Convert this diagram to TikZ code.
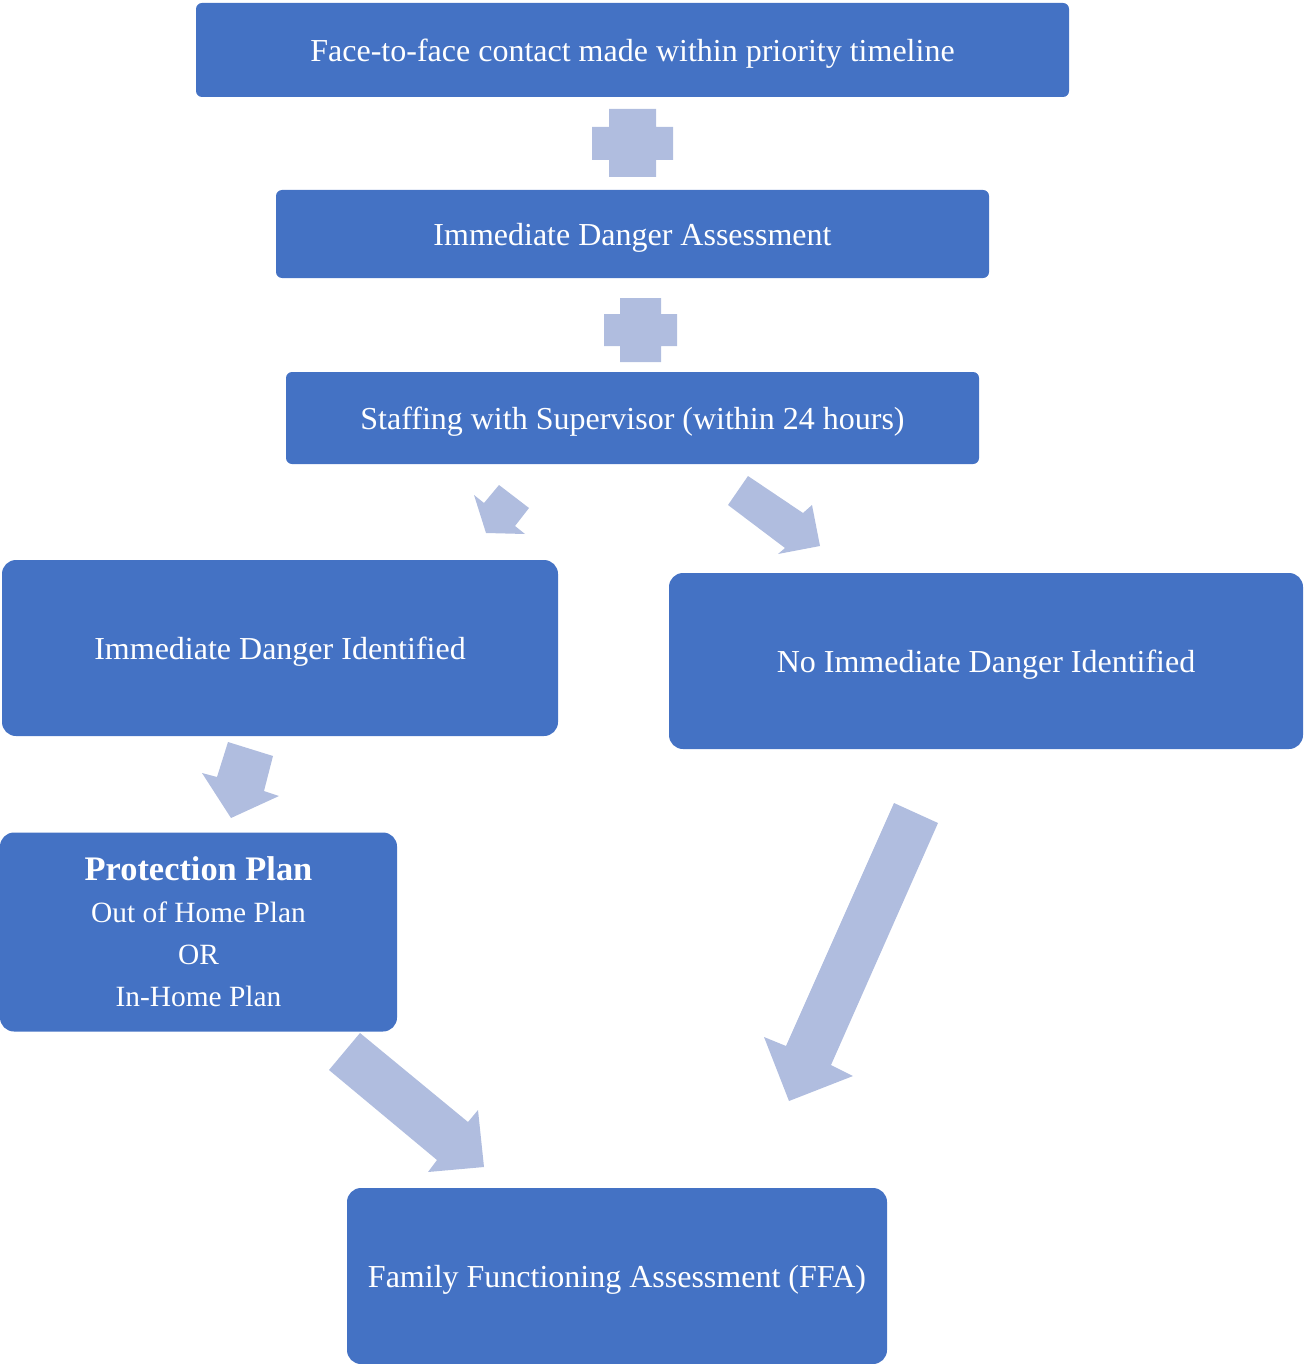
\documentclass[tikz,border=0pt]{standalone}
\usepackage{fontspec}
\setmainfont{Liberation Serif}
\definecolor{boxblue}{RGB}{68,114,196}
\definecolor{arrowblue}{RGB}{176,189,223}
\newcommand{\dn}[1]{\raisebox{-1.8pt}[\height][\depth]{#1}}
\begin{document}
\begin{tikzpicture}[x=0.5pt,y=-0.5pt,
  box/.style={fill=boxblue, draw=none, text=white, align=center, inner sep=0pt,
    font=\fontsize{16}{21}\selectfont},
  blk/.style={fill=arrowblue, draw=none}]
\useasboundingbox (0,0) rectangle (1303,1364);
% boxes
\node[box, rounded corners=3pt, minimum width=436.5pt, minimum height=47pt] (b1) at (632.5,50) {\dn{Face-to-face contact made within priority timeline}};
\node[box, rounded corners=3pt, minimum width=356.5pt, minimum height=44pt] (b2) at (632.5,234) {\dn{Immediate Danger Assessment}};
\node[box, rounded corners=3pt, minimum width=346.5pt, minimum height=46pt] (b3) at (632.5,418) {\dn{Staffing with Supervisor (within 24 hours)}};
\node[box, rounded corners=7pt, minimum width=278pt, minimum height=88pt] (b4) at (280,648) {\dn{Immediate Danger Identified}};
\node[box, rounded corners=7pt, minimum width=317pt, minimum height=88pt] (b5) at (986,661) {\dn{No Immediate Danger Identified}};
\node[box, rounded corners=7pt, minimum width=198.5pt, minimum height=99.5pt, font=\fontsize{14.7}{21}\selectfont] (b6) at (198.5,932) {{\fontsize{17.2}{21}\selectfont\bfseries Protection Plan}\\Out of Home Plan\\OR\\In-Home Plan};
\node[box, rounded corners=7pt, minimum width=270pt, minimum height=88pt] (b7) at (617,1276) {\dn{Family Functioning Assessment (FFA)}};
% plus signs
\fill[blk] (609,109) -- (656,109) -- (656,127) -- (673,127) -- (673,160) -- (656,160) -- (656,177) -- (609,177) -- (609,160) -- (592,160) -- (592,127) -- (609,127) -- cycle;
\fill[blk] (620,298) -- (661,298) -- (661,314) -- (677,314) -- (677,346) -- (661,346) -- (661,362) -- (620,362) -- (620,346) -- (604,346) -- (604,314) -- (620,314) -- cycle;
% block arrows
\fill[blk] (474,495) -- (484,503) -- (499,485) -- (529,508) -- (515,526) -- (525,534) -- (486,533) -- cycle;
\fill[blk] (748,476) -- (803,513) -- (812,505) -- (820,546) -- (778,554) -- (785,548) -- (728,505) -- cycle;
\fill[blk] (228,742) -- (273,756) -- (264,791) -- (279,796) -- (231,818) -- (202,773) -- (217,777) -- cycle;
\fill[blk] (360,1033) -- (468,1122) -- (478,1110) -- (484,1167) -- (428,1172) -- (437,1160) -- (329,1070) -- cycle;
\fill[blk] (894,803) -- (938,823) -- (831,1065) -- (853,1076) -- (789,1101) -- (764,1037) -- (786,1046) -- cycle;
\end{tikzpicture}
\end{document}
